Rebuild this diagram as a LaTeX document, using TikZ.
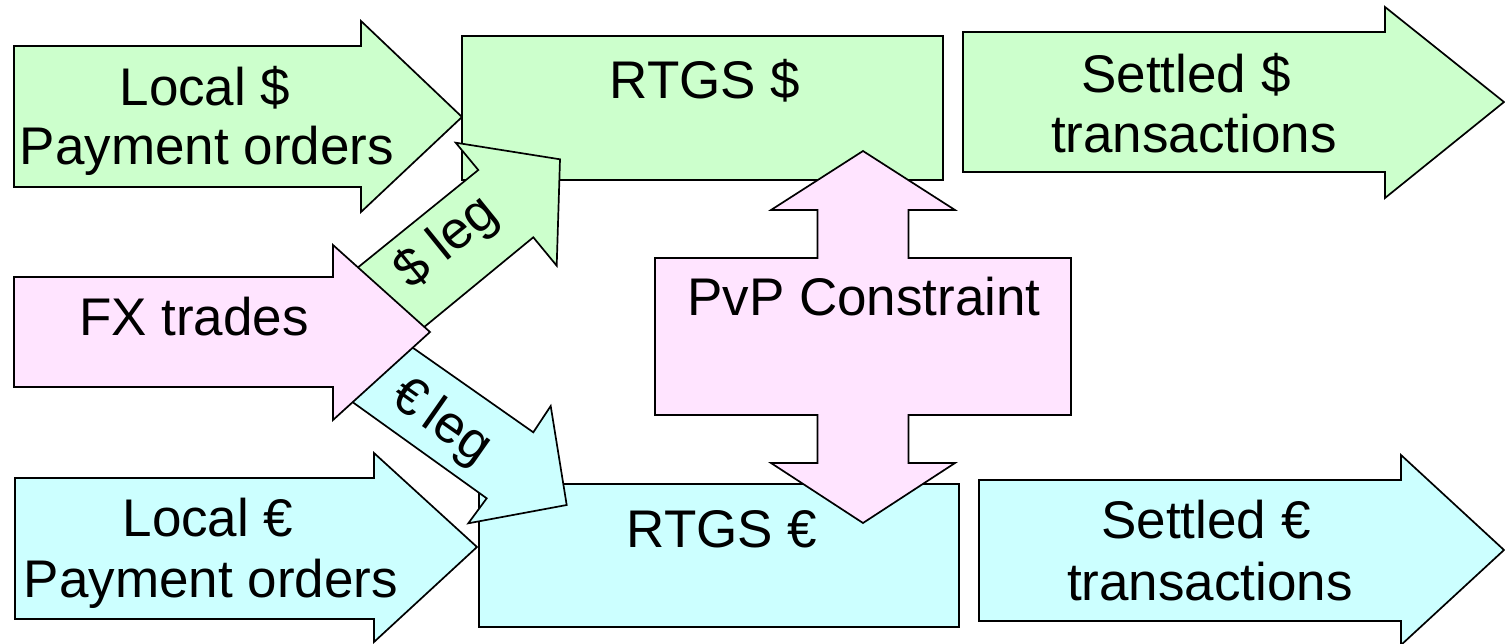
\documentclass[tikz,border=0pt]{standalone}
\usepackage{fontspec}
\setmainfont{Liberation Sans}
\definecolor{gfill}{RGB}{204,255,204}
\definecolor{cfill}{RGB}{204,255,255}
\definecolor{pfill}{RGB}{255,228,255}
\begin{document}
\begin{tikzpicture}[x=1pt,y=-1pt,line width=1.7pt,line join=miter,
  gshape/.style={fill=gfill,draw=black},
  cshape/.style={fill=cfill,draw=black},
  pshape/.style={fill=pfill,draw=black},
  lbl/.style={font=\fontsize{53}{60}\selectfont,inner sep=0pt,anchor=base},
  leglbl/.style={font=\fontsize{53}{60}\selectfont,inner sep=0pt,anchor=center}]
\useasboundingbox (0,0) rectangle (1505,643);
% Local $ payment orders
\path[gshape] (14,46) -- (361,46) -- (361,21) -- (462,117) -- (361,212) -- (361,187) -- (14,187) -- cycle;
% RTGS $
\path[gshape] (462,36) rectangle (943,180);
% Settled $
\path[gshape] (963,32) -- (1385,32) -- (1385,7) -- (1504,102) -- (1385,198) -- (1385,172) -- (963,172) -- cycle;
% RTGS euro
\path[cshape] (479,484) rectangle (959,627);
% Local euro
\path[cshape] (15,478) -- (374,478) -- (374,453) -- (477,547) -- (374,642) -- (374,619) -- (15,619) -- cycle;
% Settled euro
\path[cshape] (979,480) -- (1401,480) -- (1401,455) -- (1504,550) -- (1401,645) -- (1401,621) -- (979,621) -- cycle;
% $ leg
\path[gshape] (356,269) -- (478.3,170) -- (455.7,142.7) -- (560,159.3) -- (556.7,265.7) -- (533.3,237.3) -- (423,328) -- cycle;
% euro leg
\path[cshape] (410.9,346.4) -- (533.3,432.3) -- (550.7,406) -- (566.7,505) -- (468.3,523.3) -- (486.7,498.3) -- (350.2,400.4) -- cycle;
% FX trades
\path[pshape] (14,277) -- (333,277) -- (333,245) -- (430,332) -- (333,420) -- (333,387) -- (14,387) -- cycle;
% PvP constraint double arrow
\path[pshape] (863,151) -- (955,210) -- (908.5,210) -- (908.5,258) -- (1071,258) -- (1071,415) -- (908.5,415) -- (908.5,463) -- (955,463) -- (863,523) -- (771,463) -- (817.5,463) -- (817.5,415) -- (655,415) -- (655,258) -- (817.5,258) -- (817.5,210) -- (771,210) -- cycle;
% texts
\node[lbl] (tlocalusdA) at (205,105) {Local \$};
\node[lbl] (tlocalusdB) at (207,164) {Payment orders};
\node[lbl] (trtgsusd) at (705,98) {RTGS \$};
\node[lbl] (tsettledusdA) at (1186,92) {Settled \$};
\node[lbl] (tsettledusdB) at (1194,152) {transactions};
\node[lbl] (tfx) at (194,335) {FX trades};
\node[lbl] (tpvp) at (864,315) {PvP Constraint};
\node[lbl] (tlocaleurA) at (208,536) {Local €};
\node[lbl] (tlocaleurB) at (211,597) {Payment orders};
\node[lbl] (trtgseur) at (722,547) {RTGS €};
\node[lbl] (tsettledeurA) at (1206,538) {Settled €};
\node[lbl] (tsettledeurB) at (1210,600) {transactions};
\node[leglbl,rotate=39] (tusdleg) at (447,243) {\$ leg};
\node[leglbl,rotate=-35] (teurleg) at (441,423) {€\,leg};
\end{tikzpicture}
\end{document}
